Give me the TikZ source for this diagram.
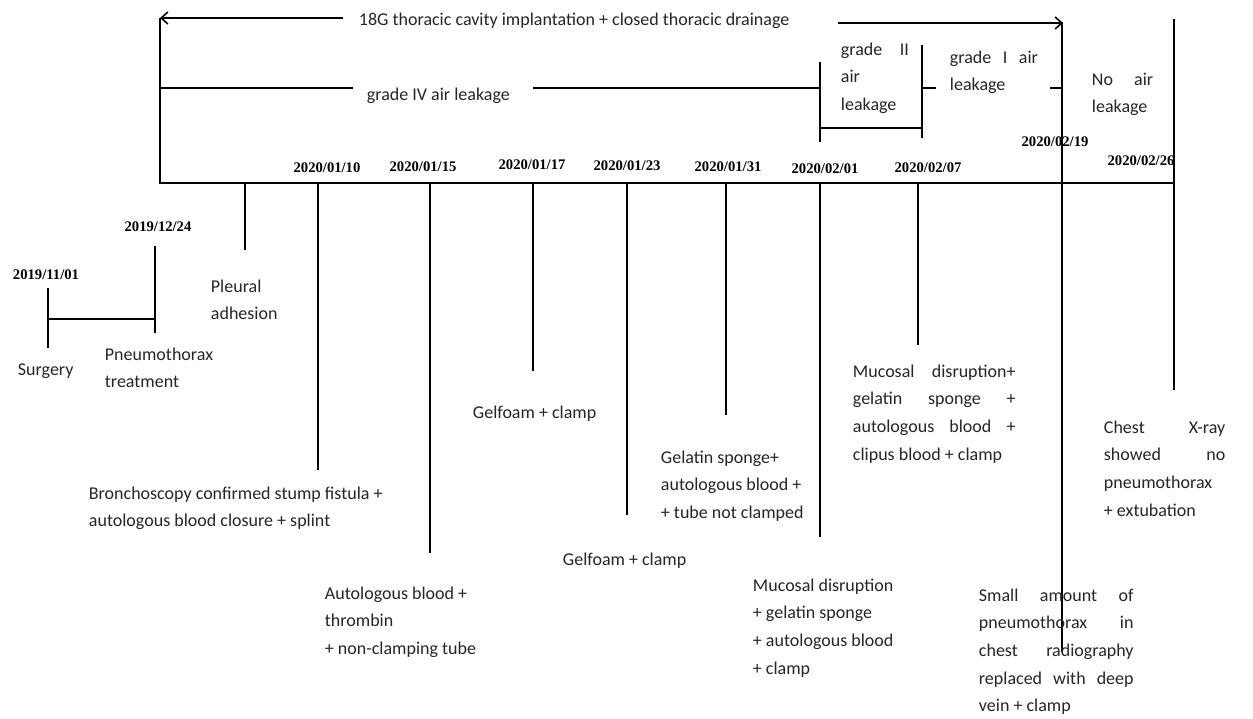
\documentclass[tikz,border=0pt]{standalone}
\usepackage{fontspec}
\setmainfont{Carlito}
\newfontfamily\datefont{Liberation Serif}
\usetikzlibrary{arrows.meta}
\newcommand\ml[1]{\vtop{\baselineskip=20.8pt\lineskiplimit=-20pt\lineskip=0pt #1}}
\newcommand\jl[2]{\hbox{\makebox[#1][s]{#2}}}
\newcommand\pl[1]{\hbox{#1}}
\begin{document}
\begin{tikzpicture}[x=0.75pt,y=-0.75pt,line width=1.4pt,
  txt/.style={font=\fontsize{13.5}{20.8}\selectfont,inner sep=0pt,anchor=base west,text=black!85},
  dt/.style={font=\datefont\bfseries\fontsize{11}{13}\selectfont,inner sep=0pt,anchor=base},
  tip/.style={-{Straight Barb[length=5pt,width=9pt,line width=1.2pt]}}]
\fill[white] (0,0) rectangle (1253,718);
\useasboundingbox (0,0) rectangle (1253,718);

% top arrow and its label
\node[txt] (title) at (358,25) {18G thoracic cavity implantation + closed thoracic drainage};
\draw[tip] (343,18) -- (160,18);
\draw[tip] (838,23) -- (1063,23);

% left bracket and axis
\draw (160,18) -- (160,183) -- (1174,183);

% air leakage grades
\node[txt] (g4) at (366,100) {grade IV air leakage};
\draw (160,88) -- (353,88);
\draw (533,88) -- (820,88);
\draw (820,62) -- (820,142);
\draw (820,128) -- (922,128);
\draw (922,45) -- (922,138);
\draw (922,88) -- (936,88);
\draw (1050,88) -- (1062,88);
\node[txt] (g2) at (840,55) {\ml{\jl{51pt}{grade II}\pl{air}\pl{leakage}}};
\node[txt] (g1) at (949,63) {\ml{\jl{66pt}{grade I air}\pl{leakage}}};
\node[txt] (g0) at (1091,85) {\ml{\jl{46pt}{No air}\pl{leakage}}};

% early events
\draw (48,288) -- (48,348);
\draw (48,319) -- (155,319);
\draw (155,246) -- (155,333);
\node[dt] (d1) at (46,279) {2019/11/01};
\node[dt] (d2) at (158,231) {2019/12/24};
\node[txt] (surg) at (17,375) {Surgery};
\node[txt] (pneu) at (104,360) {\ml{\pl{Pneumothorax}\pl{treatment}}};

% ticks below axis
\draw (245,183) -- (245,250);
\draw (318,183) -- (318,470);
\draw (430,183) -- (430,553);
\draw (533,183) -- (533,371);
\draw (627,183) -- (627,515);
\draw (726,183) -- (726,415);
\draw (820,183) -- (820,537);
\draw (918,183) -- (918,345);
\draw (1062,22) -- (1062,652);
\draw (1174,19) -- (1174,390);

% dates
\node[dt] at (327,172) {2020/01/10};
\node[dt] at (423,171) {2020/01/15};
\node[dt] at (532,169) {2020/01/17};
\node[dt] at (627,170) {2020/01/23};
\node[dt] at (728,171) {2020/01/31};
\node[dt] at (825,173) {2020/02/01};
\node[dt] at (928,172) {2020/02/07};
\node[dt] at (1055,146) {2020/02/19};
\node[dt] at (1141,165) {2020/02/26};

% event texts
\node[txt] (pa) at (210,292) {\ml{\pl{Pleural}\pl{adhesion}}};
\node[txt] (e1) at (88,499) {\ml{\pl{Bronchoscopy confirmed stump fistula +}\pl{autologous blood closure + splint}}};
\node[txt] (e2) at (324,599) {\ml{\pl{Autologous blood +}\pl{thrombin}\pl{+ non-clamping tube}}};
\node[txt] (e3) at (472,418) {Gelfoam + clamp};
\node[txt] (e4) at (562,565) {Gelfoam + clamp};
\node[txt] (e5) at (660,463) {\ml{\pl{Gelatin sponge+}\pl{autologous blood +}\pl{+ tube not clamped}}};
\node[txt] (e6) at (752,591) {\ml{\pl{Mucosal disruption}\pl{+ gelatin sponge}\pl{+ autologous blood}\pl{+ clamp}}};
\node[txt] (e7) at (852,377) {\ml{\jl{122pt}{Mucosal disruption+}\jl{122pt}{gelatin sponge +}\jl{122pt}{autologous blood +}\pl{clipus blood + clamp}}};
\node[txt] (e8) at (978,601) {\ml{\jl{116pt}{Small amount of}\jl{116pt}{pneumothorax in}\jl{116pt}{chest radiography}\jl{116pt}{replaced with deep}\pl{vein + clamp}}};
\node[txt] (e9) at (1103,433) {\ml{\jl{91pt}{Chest X-ray}\jl{91pt}{showed no}\pl{pneumothorax}\pl{+ extubation}}};
\end{tikzpicture}
\end{document}
